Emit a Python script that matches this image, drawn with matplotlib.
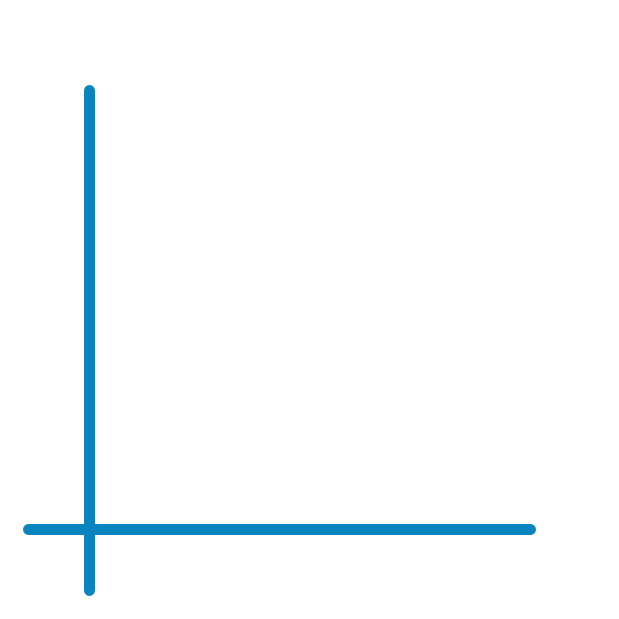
import matplotlib
matplotlib.use('Agg')
import matplotlib.pyplot as plt

# 两条线段（像素坐标，y 向下）
vertical_x = [88.5, 88.5]
vertical_y = [89.5, 589.5]
horizontal_x = [28, 530]
horizontal_y = [529, 529]

line_color = '#0A84BF'

fig = plt.figure(figsize=(6.19, 6.19), dpi=100)
ax = fig.add_axes([0, 0, 1, 1])

for xs, ys in [(vertical_x, vertical_y), (horizontal_x, horizontal_y)]:
    ax.plot(xs, ys, color=line_color, linewidth=7.9, solid_capstyle='round')

ax.set_xlim(0, 619)
ax.set_ylim(619, 0)
ax.axis('off')

fig.savefig('out.png', dpi=100, facecolor='white')
